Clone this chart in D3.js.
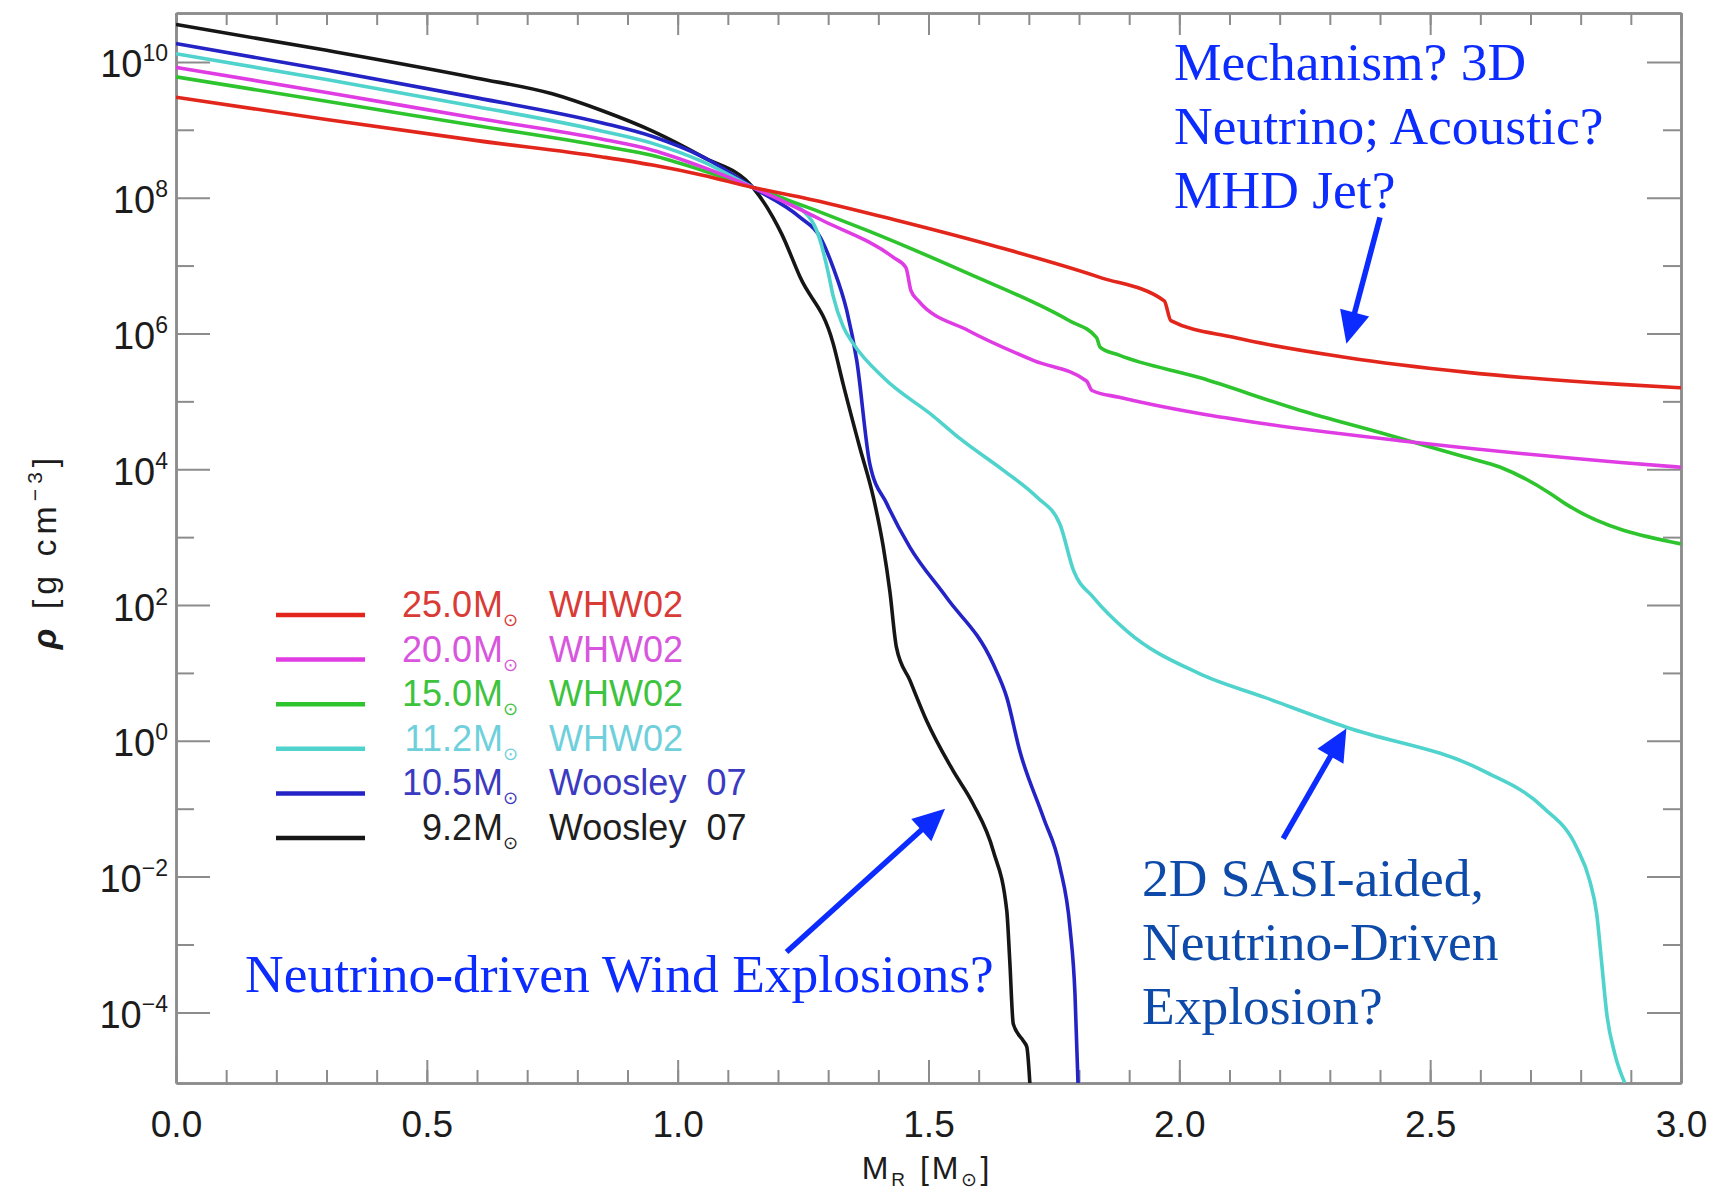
<!DOCTYPE html>
<html>
<head>
<meta charset="utf-8">
<script src="https://cdn.jsdelivr.net/npm/d3@7"></script>
<style>
  body { margin: 0; background: #fff; }
  svg { display: block; }
  text { white-space: pre; }
</style>
</head>
<body>
<div id="container"></div>
<script>
/* CONSTANTS AND GLOBALS */
const width = 1722,
  height = 1195;
const margin = { left: 176, right: 1681, top: 13, bottom: 1083 };

/* DATA: enclosed mass M_R [Msun] and log10 density [g cm^-3] */
const mass25 = [0, 0.3, 0.6, 0.85, 0.95, 1.05, 1.15, 1.25, 1.44, 1.64, 1.84, 1.97, 1.983, 2.11, 2.33, 2.57, 2.88, 3.0];
const logRho25 = [9.48, 9.15, 8.84, 8.60, 8.48, 8.33, 8.15, 8.00, 7.66, 7.27, 6.83, 6.48, 6.19, 5.94, 5.65, 5.43, 5.25, 5.20];

const mass20 = [0, 0.3, 0.6, 0.85, 0.95, 1.05, 1.15, 1.29, 1.43, 1.455, 1.465, 1.48, 1.58, 1.71, 1.815, 1.826, 1.88, 2.04, 2.17, 2.44, 2.88, 3.0];
const logRho20 = [9.92, 9.55, 9.17, 8.86, 8.70, 8.45, 8.15, 7.66, 7.12, 6.97, 6.63, 6.48, 6.04, 5.60, 5.30, 5.16, 5.06, 4.82, 4.67, 4.42, 4.10, 4.03];

const mass15 = [0, 0.3, 0.6, 0.85, 0.95, 1.05, 1.15, 1.38, 1.58, 1.78, 1.835, 1.842, 1.88, 2.04, 2.24, 2.41, 2.57, 2.64, 2.74, 2.77, 3.0];
const logRho15 = [9.78, 9.42, 9.06, 8.76, 8.62, 8.40, 8.15, 7.51, 6.88, 6.19, 5.94, 5.80, 5.68, 5.35, 4.87, 4.52, 4.18, 4.03, 3.64, 3.49, 2.90];

const mass112 = [0, 0.3, 0.6, 0.85, 0.95, 1.05, 1.15, 1.25, 1.284, 1.30, 1.31, 1.33, 1.35, 1.41, 1.51, 1.563, 1.65, 1.716, 1.762, 1.789, 1.829, 1.895, 2.04, 2.17, 2.333, 2.605, 2.725, 2.792, 2.818, 2.832, 2.842, 2.852, 2.868, 2.888];
const logRho112 = [10.12, 9.74, 9.34, 8.98, 8.80, 8.53, 8.15, 7.81, 7.37, 6.90, 6.55, 6.10, 5.85, 5.35, 4.78, 4.45, 3.98, 3.59, 3.19, 2.51, 2.11, 1.62, 0.99, 0.64, 0.20, -0.44, -0.98, -1.57, -2.06, -2.55, -3.28, -4.02, -4.61, -5.04];

const mass105 = [0, 0.3, 0.6, 0.85, 0.95, 1.05, 1.15, 1.244, 1.284, 1.31, 1.337, 1.357, 1.383, 1.417, 1.463, 1.536, 1.629, 1.656, 1.682, 1.729, 1.762, 1.782, 1.792, 1.798];
const logRho105 = [10.27, 9.88, 9.47, 9.10, 8.90, 8.60, 8.15, 7.71, 7.42, 6.97, 6.34, 5.60, 4.08, 3.49, 2.85, 2.11, 1.13, 0.64, -0.15, -1.13, -1.86, -2.75, -3.73, -5.04];

const mass92 = [0, 0.3, 0.6, 0.75, 0.85, 0.95, 1.05, 1.15, 1.19, 1.207, 1.244, 1.31, 1.33, 1.363, 1.39, 1.41, 1.423, 1.436, 1.463, 1.496, 1.549, 1.589, 1.629, 1.656, 1.662, 1.669, 1.689, 1.696, 1.702];
const logRho92 = [10.55, 10.17, 9.76, 9.53, 9.28, 8.98, 8.60, 8.15, 7.71, 7.47, 6.83, 5.85, 5.25, 4.32, 3.59, 2.85, 2.20, 1.38, 0.89, 0.30, -0.44, -0.93, -1.62, -2.50, -3.24, -4.17, -4.42, -4.51, -5.04];

// legend text
const legendMass = ["25.0", "20.0", "15.0", "11.2", "10.5", "9.2"];
const legendRef = ["WHW02", "WHW02", "WHW02", "WHW02", "Woosley  07", "Woosley  07"];

// tick labels
const xMajor = [0.0, 0.5, 1.0, 1.5, 2.0, 2.5, 3.0];
const xMinor = d3.range(31).map(i => i / 10);
const yMajorExp = [10, 8, 6, 4, 2, 0, -2, -4];
const yMinorExp = [9, 7, 5, 3, 1, -1, -3];

const series = [
  { mass: mass92, logRho: logRho92, color: "#161616", text: "#1e1e1e" },
  { mass: mass105, logRho: logRho105, color: "#2424c6", text: "#3b3bc2" },
  { mass: mass112, logRho: logRho112, color: "#4fd3cc", text: "#6fd0dc" },
  { mass: mass15, logRho: logRho15, color: "#2ec42e", text: "#3ec33e" },
  { mass: mass20, logRho: logRho20, color: "#e03ce4", text: "#d856de" },
  { mass: mass25, logRho: logRho25, color: "#e2261c", text: "#d93b36" },
];
// legend order (top to bottom) is the reverse of drawing order
const legendSeries = series.slice().reverse();

const axisGrey = "#8c8c8c";
const annBlue = "#0b2bff";
const annDarkBlue = "#0e4aa9";

// 1. scales
const xScale = d3.scaleLinear()
  .domain([0, 3])
  .range([margin.left, margin.right]);

const yScale = d3.scaleLog()
  .domain([Math.pow(10, -5.04), Math.pow(10, 10.72)])
  .range([margin.bottom, margin.top]);

// 2. svg
const svg = d3.select("#container")
  .append("svg")
  .attr("width", width)
  .attr("height", height)
  .style("background", "#fff");

svg.append("clipPath")
  .attr("id", "plotClip")
  .append("rect")
  .attr("x", margin.left)
  .attr("y", margin.top)
  .attr("width", margin.right - margin.left)
  .attr("height", margin.bottom - margin.top);

// 3. axes (IDL style: ticks pointing inward, all four sides)
function styleAxis(g) {
  g.selectAll("path.domain").attr("stroke", axisGrey).attr("stroke-width", 2.5);
  g.selectAll(".tick line").attr("stroke", axisGrey).attr("stroke-width", 2);
}

// bottom
svg.append("g")
  .attr("transform", `translate(0, ${margin.bottom})`)
  .call(d3.axisBottom(xScale).tickValues(xMinor).tickSize(-13).tickSizeOuter(0).tickFormat(""))
  .call(styleAxis);
const xAxisG = svg.append("g")
  .attr("transform", `translate(0, ${margin.bottom})`)
  .call(d3.axisBottom(xScale).tickValues(xMajor).tickSize(-23).tickSizeOuter(0)
    .tickPadding(28).tickFormat(d3.format(".1f")))
  .call(styleAxis);
xAxisG.selectAll("text")
  .attr("font-family", "'Liberation Sans', Arial, sans-serif")
  .attr("font-size", 37)
  .attr("fill", "#1c1c1c");

// top
svg.append("g")
  .attr("transform", `translate(0, ${margin.top})`)
  .call(d3.axisTop(xScale).tickValues(xMinor).tickSize(-12).tickSizeOuter(0).tickFormat(""))
  .call(styleAxis);
svg.append("g")
  .attr("transform", `translate(0, ${margin.top})`)
  .call(d3.axisTop(xScale).tickValues(xMajor).tickSize(-22).tickSizeOuter(0).tickFormat(""))
  .call(styleAxis);

// left
svg.append("g")
  .attr("transform", `translate(${margin.left}, 0)`)
  .call(d3.axisLeft(yScale).tickValues(yMinorExp.map(e => Math.pow(10, e))).tickSize(-18).tickSizeOuter(0).tickFormat(""))
  .call(styleAxis);
const yAxisG = svg.append("g")
  .attr("transform", `translate(${margin.left}, 0)`)
  .call(d3.axisLeft(yScale).tickValues(yMajorExp.map(e => Math.pow(10, e))).tickSize(-34).tickSizeOuter(0).tickPadding(8))
  .call(styleAxis);

yAxisG.selectAll(".tick text")
  .each(function (d) {
    const t = d3.select(this);
    const e = Math.round(Math.log10(d));
    t.text(null)
      .attr("dy", null)
      .attr("y", 15)
      .attr("font-family", "'Liberation Sans', Arial, sans-serif")
      .attr("font-size", 38)
      .attr("fill", "#1c1c1c")
      .attr("text-anchor", "end");
    t.append("tspan").text("10");
    t.append("tspan")
      .attr("dy", -16)
      .attr("font-size", 23)
      .text(e < 0 ? "\u2212" + Math.abs(e) : String(e));
  });

// right
svg.append("g")
  .attr("transform", `translate(${margin.right}, 0)`)
  .call(d3.axisRight(yScale).tickValues(yMinorExp.map(e => Math.pow(10, e))).tickSize(-18).tickSizeOuter(0).tickFormat(""))
  .call(styleAxis);
svg.append("g")
  .attr("transform", `translate(${margin.right}, 0)`)
  .call(d3.axisRight(yScale).tickValues(yMajorExp.map(e => Math.pow(10, e))).tickSize(-34).tickSizeOuter(0).tickFormat(""))
  .call(styleAxis);

// axis titles
const xTitle = svg.append("text")
  .attr("x", 927)
  .attr("y", 1179)
  .attr("text-anchor", "middle")
  .attr("font-family", "'Liberation Sans', Arial, sans-serif")
  .attr("font-size", 32)
  .attr("letter-spacing", 3)
  .attr("fill", "#1c1c1c");
xTitle.append("tspan").text("M");
xTitle.append("tspan").attr("font-size", 19).attr("dy", 7).text("R");
xTitle.append("tspan").attr("dy", -7).text(" [M");
xTitle.append("tspan").attr("font-size", 19).attr("dy", 7).text("\u2299");
xTitle.append("tspan").attr("dy", -7).text("]");

const yTitle = svg.append("text")
  .attr("transform", "translate(56, 551) rotate(-90)")
  .attr("text-anchor", "middle")
  .attr("font-family", "'Liberation Sans', Arial, sans-serif")
  .attr("font-size", 34)
  .attr("letter-spacing", 5)
  .attr("fill", "#1c1c1c");
yTitle.append("tspan").attr("font-weight", "bold").attr("font-style", "italic").text("\u03c1");
yTitle.append("tspan").text(" [g cm");
yTitle.append("tspan").attr("font-size", 21).attr("dy", -14).text("\u22123");
yTitle.append("tspan").attr("dy", 14).text("]");

// 4. lines
const line = d3.line()
  .x(d => xScale(d[0]))
  .y(d => yScale(Math.pow(10, d[1])))
  .curve(d3.curveMonotoneX);

svg.append("g")
  .attr("clip-path", "url(#plotClip)")
  .selectAll("path")
  .data(series)
  .join("path")
  .attr("d", s => line(d3.zip(s.mass, s.logRho)))
  .attr("fill", "none")
  .attr("stroke", s => s.color)
  .attr("stroke-width", 3.6)
  .attr("stroke-linejoin", "round");

// 5. legend
const legend = svg.append("g")
  .attr("font-family", "'Liberation Sans', Arial, sans-serif")
  .attr("font-size", 36);
const legendRow = legend.selectAll("g")
  .data(legendSeries)
  .join("g")
  .attr("transform", (d, i) => `translate(0, ${615 + i * 44.6})`);
legendRow.append("line")
  .attr("x1", 276).attr("x2", 365)
  .attr("stroke", d => d.color)
  .attr("stroke-width", 4.5);
legendRow.append("text")
  .attr("x", 472).attr("y", 2)
  .attr("text-anchor", "end")
  .attr("fill", d => d.text)
  .text((d, i) => legendMass[i]);
const mSun = legendRow.append("text")
  .attr("x", 473).attr("y", 2)
  .attr("fill", d => d.text);
mSun.append("tspan").text("M");
mSun.append("tspan").attr("font-size", 18).attr("dy", 9).text("\u2299");
legendRow.append("text")
  .attr("x", 549).attr("y", 2)
  .attr("fill", d => d.text)
  .text((d, i) => legendRef[i]);

// 6. annotations
const annotations = [
  { lines: ["Mechanism? 3D", "Neutrino; Acoustic?", "MHD Jet?"], x: 1174, y: 80, color: annBlue },
  { lines: ["Neutrino-driven Wind Explosions?"], x: 245, y: 992, color: annBlue },
  { lines: ["2D SASI-aided,", "Neutrino-Driven", "Explosion?"], x: 1142, y: 896, color: annDarkBlue },
];
const arrows = [
  { from: [2.40, 7.71], to: [2.333, 5.85] },
  { from: [1.217, -3.11], to: [1.533, -1.00] },
  { from: [2.207, -1.44], to: [2.333, 0.18] },
];

annotations.forEach(a => {
  const t = svg.append("text")
    .attr("font-family", "'Liberation Serif', 'Times New Roman', serif")
    .attr("font-size", 53.5)
    .attr("fill", a.color);
  a.lines.forEach((l, i) => {
    t.append("tspan").attr("x", a.x).attr("y", a.y + i * 64).text(l);
  });
});

arrows.forEach(a => {
  const x1 = xScale(a.from[0]), y1 = yScale(Math.pow(10, a.from[1]));
  const x2 = xScale(a.to[0]), y2 = yScale(Math.pow(10, a.to[1]));
  const ang = Math.atan2(y2 - y1, x2 - x1);
  const headLen = 32, headW = 15;
  const bx = x2 - headLen * Math.cos(ang), by = y2 - headLen * Math.sin(ang);
  svg.append("line")
    .attr("x1", x1).attr("y1", y1)
    .attr("x2", bx + 2 * Math.cos(ang)).attr("y2", by + 2 * Math.sin(ang))
    .attr("stroke", annBlue)
    .attr("stroke-width", 5.5);
  svg.append("polygon")
    .attr("points", [
      [x2, y2],
      [bx + headW * Math.sin(ang), by - headW * Math.cos(ang)],
      [bx - headW * Math.sin(ang), by + headW * Math.cos(ang)],
    ].map(p => p.join(",")).join(" "))
    .attr("fill", annBlue);
});
</script>
</body>
</html>
